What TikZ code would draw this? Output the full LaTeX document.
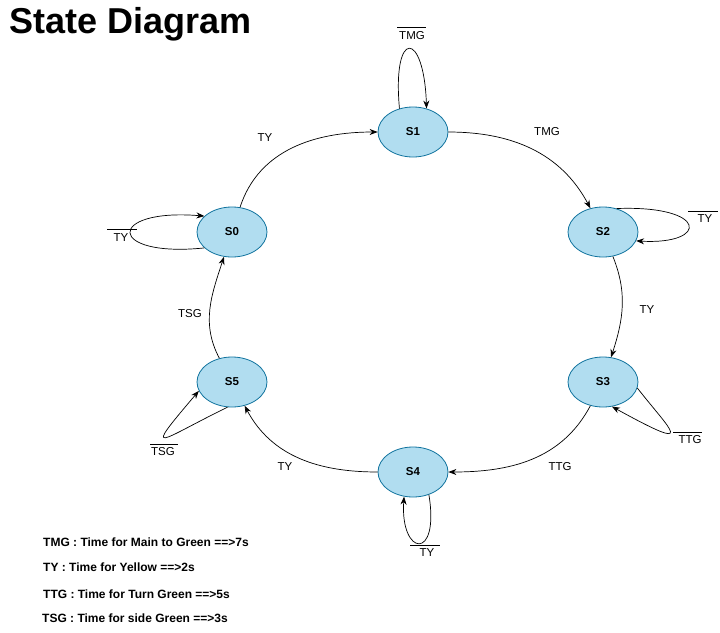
\documentclass[tikz,border=0pt]{standalone}
\usepackage{fontspec}
\setmainfont{Liberation Sans}
\usetikzlibrary{arrows.meta,shapes.geometric}
\definecolor{stfill}{HTML}{B1DDF0}
\definecolor{stline}{HTML}{10739E}
\begin{document}
\begin{tikzpicture}[x=1pt,y=-1pt,
  state/.style={ellipse,draw=stline,fill=stfill,line width=0.8pt,minimum width=70pt,minimum height=50pt,inner sep=0pt,font=\fontsize{11.5}{13}\selectfont\bfseries},
  edge/.style={draw=black,line width=0.7pt,-{Stealth[length=8pt,width=6pt]}},
  lab/.style={font=\fontsize{11.5}{13}\selectfont,inner sep=1pt},
  bar/.style={line width=0.7pt},
  legend/.style={font=\fontsize{12}{14}\selectfont\bfseries,anchor=west,inner sep=0pt}]
\useasboundingbox (0,0) rectangle (720,632);
\node[anchor=west,inner sep=0pt,font=\fontsize{36}{40}\selectfont\bfseries] (title) at (9,24) {State Diagram};

\node[state] (S1) at (413,132) {S1};
\node[state] (S2) at (603,232) {S2};
\node[state] (S0) at (232,232) {S0};
\node[state] (S3) at (603,382) {S3};
\node[state] (S4) at (413,472) {S4};
\node[state] (S5) at (232,382) {S5};

% transitions
\draw[edge] (S0) to[out=72,in=180] (S1);
\draw[edge] (S1) to[out=0,in=118] (S2);
\draw[edge] (S2) to[out=-68,in=72] (S3);
\draw[edge] (S3) to[out=-118,in=0] (S4);
\draw[edge] (S4) to[out=180,in=-62] (S5);
\draw[edge] (S5) to[out=118,in=-108] (S0);

% self loops
\draw[edge] (S1.120) .. controls (392,28) and (424,30) .. (S1.60);
\draw[edge] (S2.60) .. controls (709,205) and (709,245) .. (S2.-15);
\draw[edge] (S3.-10) .. controls (670,430) and (700,455) .. (S3.-70);
\draw[edge] (S4.-55) .. controls (440,562) and (400,556) .. (S4.-110);
\draw[edge] (S5.-100) .. controls (160,440) and (140,460) .. (S5.195);
\draw[edge] (S0.210) .. controls (106,258) and (106,208) .. (S0.150);

% transition labels
\node[lab] (lTY1) at (265,138) {TY};
\node[lab] (lTMG) at (547,132) {TMG};
\node[lab] (lTY2) at (647,310) {TY};
\node[lab] (lTTG) at (560,467) {TTG};
\node[lab] (lTY4) at (285,467) {TY};
\node[lab] (lTSG) at (190,314) {TSG};

% loop labels with overlines
\node[lab] (bTMG) at (412,36) {TMG};
\draw[bar] (397,27) -- (426,27);
\node[lab] (bTY2) at (705,219) {TY};
\draw[bar] (688,211) -- (718,211);
\node[lab] (bTTG) at (690,440) {TTG};
\draw[bar] (673,432) -- (702,432);
\node[lab] (bTY4) at (427,553) {TY};
\draw[bar] (410,545) -- (440,545);
\node[lab] (bTSG) at (163,452) {TSG};
\draw[bar] (150,444) -- (178,444);
\node[lab] (bTY0) at (121,238) {TY};
\draw[bar] (107,229) -- (137,229);

% legend
\node[legend] (leg1) at (43,542) {TMG : Time for Main to Green ==>7s};
\node[legend] (leg2) at (43,567) {TY : Time for Yellow ==>2s};
\node[legend] (leg3) at (43,594) {TTG : Time for Turn Green ==>5s};
\node[legend] (leg4) at (42,618) {TSG : Time for side Green ==>3s};
\end{tikzpicture}
\end{document}
